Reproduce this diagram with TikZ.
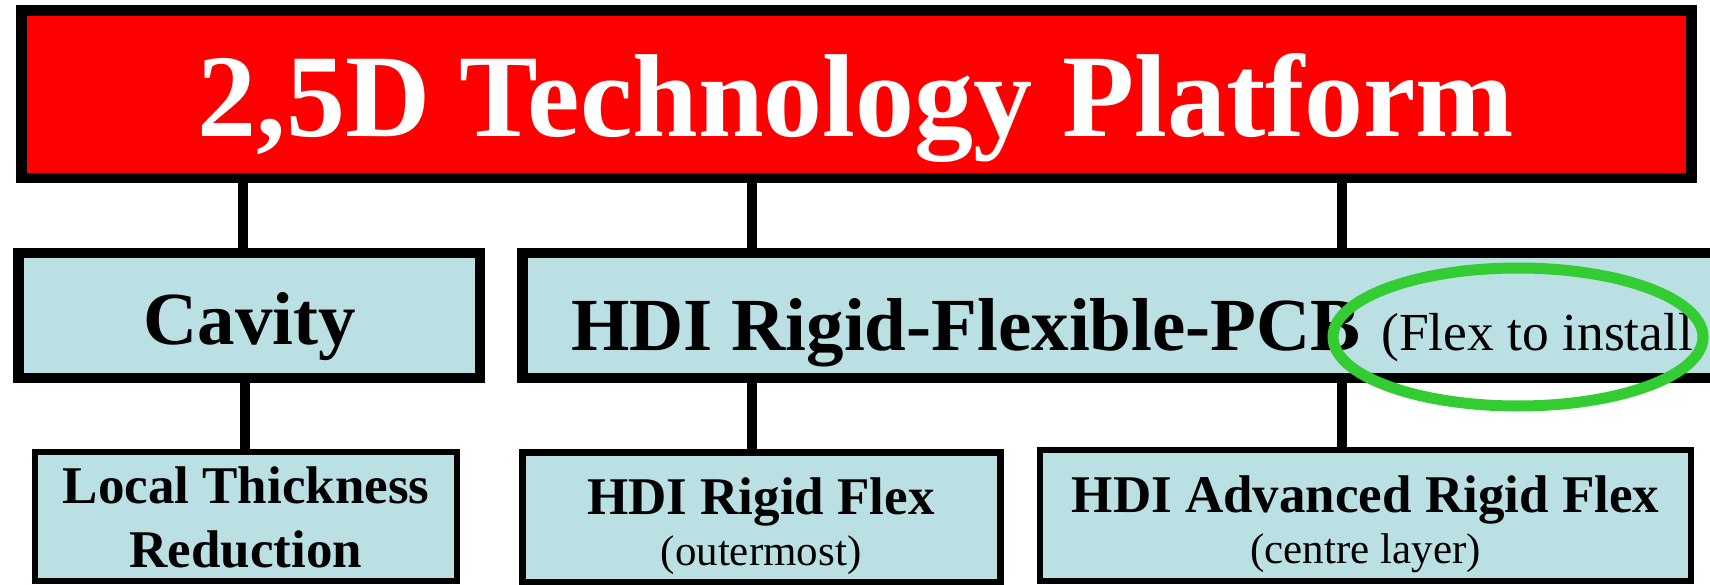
\documentclass[tikz,border=0pt]{standalone}
\usepackage{fontspec}
\setmainfont{Liberation Serif}
\definecolor{boxblue}{RGB}{187,224,227}
\definecolor{ringgreen}{RGB}{51,204,51}
\definecolor{titlered}{RGB}{255,0,0}
\begin{document}
\begin{tikzpicture}[x=1pt,y=-1pt,
  box/.style={draw=black, fill=boxblue, rectangle, inner sep=0pt},
  conn/.style={draw=black, line width=10pt},
  bigbold/.style={font=\fontsize{75}{80}\selectfont\bfseries, inner sep=0pt, anchor=base},
  midbold/.style={font=\fontsize{53}{60}\selectfont\bfseries, inner sep=0pt, anchor=base},
  smallreg/.style={font=\fontsize{43}{48}\selectfont, inner sep=0pt, anchor=base}]
\useasboundingbox (0,0) rectangle (1710,585);
\clip (0,0) rectangle (1710,585);
% boxes
\node[draw=black, fill=titlered, line width=10.5pt, inner sep=0pt,
      minimum width=1670pt, minimum height=167.7pt] (top) at (856.3,94.2) {};
\node[box, line width=10.5pt, minimum width=461.4pt, minimum height=125pt] (cav) at (249.3,315.5) {};
\node[box, line width=10.5pt, minimum width=1237.4pt, minimum height=125pt] (hdi) at (1141.3,315.5) {};
\node[box, line width=6pt, minimum width=422.3pt, minimum height=128.7pt] (ltr) at (246.2,516.7) {};
\node[box, line width=6.5pt, minimum width=478.2pt, minimum height=129.5pt] (hrf) at (761.6,517.3) {};
\node[box, line width=6pt, minimum width=651.6pt, minimum height=130.7pt] (adv) at (1365.5,515.7) {};
% connectors
\coordinate (k1) at (242.7,0);
\coordinate (k2) at (752.3,0);
\coordinate (k3) at (1341.7,0);
\coordinate (k4) at (245,0);
\draw[conn] (top.south -| k1) -- (cav.north -| k1);
\draw[conn] (top.south -| k2) -- (hdi.north -| k2);
\draw[conn] (top.south -| k3) -- (hdi.north -| k3);
\draw[conn] (cav.south -| k4) -- (ltr.north -| k4);
\draw[conn] (hdi.south -| k2) -- (hrf.north -| k2);
\draw[conn] (hdi.south -| k3) -- (adv.north -| k3);
% texts
\node[font=\fontsize{118}{120}\selectfont\bfseries, text=white, inner sep=0pt, anchor=base] (ttl) at (856,137) {2,5D Technology Platform};
\node[bigbold] (tcav) at (250,344.5) {Cavity};
\node[bigbold, anchor=base west] (thdi) at (571,350) {HDI Rigid-Flexible-PCB};
\node[font=\fontsize{53.5}{60}\selectfont, inner sep=0pt, anchor=base west] (tflex) at (1381,350) {(Flex to install};
\node[midbold] (tltr1) at (246,503) {Local Thickness};
\node[midbold] (tltr2) at (246,567) {Reduction};
\node[midbold] (thrf1) at (761,514) {HDI Rigid Flex};
\node[smallreg] (thrf2) at (761,565) {(outermost)};
\node[midbold] (tadv1) at (1365.5,512) {HDI Advanced Rigid Flex};
\node[smallreg] (tadv2) at (1365.5,563) {(centre layer)};
% green ring
\draw[ringgreen, line width=11pt] (1518,337) ellipse [x radius=185pt, y radius=69pt];
\end{tikzpicture}
\end{document}
